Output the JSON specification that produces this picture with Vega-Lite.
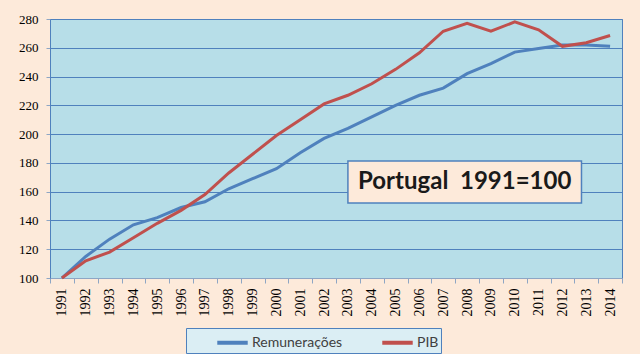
{
  "$schema": "https://vega.github.io/schema/vega-lite/v6.json",
  "width": 572,
  "height": 259,
  "padding": {"left": 5, "top": 13, "right": 18, "bottom": 0},
  "background": "#FDEADA",
  "config": {"view": {"fill": "#B7DEE8", "stroke": "#4F81BD", "strokeWidth": 1}},
  "datasets": {
    "series": [
      {"year": 1991, "serie": "Remunerações", "value": 100},
      {"year": 1992, "serie": "Remunerações", "value": 115},
      {"year": 1993, "serie": "Remunerações", "value": 127},
      {"year": 1994, "serie": "Remunerações", "value": 137},
      {"year": 1995, "serie": "Remunerações", "value": 142},
      {"year": 1996, "serie": "Remunerações", "value": 149},
      {"year": 1997, "serie": "Remunerações", "value": 153},
      {"year": 1998, "serie": "Remunerações", "value": 162},
      {"year": 1999, "serie": "Remunerações", "value": 169},
      {"year": 2000, "serie": "Remunerações", "value": 176},
      {"year": 2001, "serie": "Remunerações", "value": 187},
      {"year": 2002, "serie": "Remunerações", "value": 197},
      {"year": 2003, "serie": "Remunerações", "value": 204},
      {"year": 2004, "serie": "Remunerações", "value": 212},
      {"year": 2005, "serie": "Remunerações", "value": 220},
      {"year": 2006, "serie": "Remunerações", "value": 227},
      {"year": 2007, "serie": "Remunerações", "value": 232},
      {"year": 2008, "serie": "Remunerações", "value": 242},
      {"year": 2009, "serie": "Remunerações", "value": 249},
      {"year": 2010, "serie": "Remunerações", "value": 257},
      {"year": 2011, "serie": "Remunerações", "value": 259.5},
      {"year": 2012, "serie": "Remunerações", "value": 262},
      {"year": 2013, "serie": "Remunerações", "value": 262},
      {"year": 2014, "serie": "Remunerações", "value": 261},
      {"year": 1991, "serie": "PIB", "value": 100},
      {"year": 1992, "serie": "PIB", "value": 112},
      {"year": 1993, "serie": "PIB", "value": 118},
      {"year": 1994, "serie": "PIB", "value": 128},
      {"year": 1995, "serie": "PIB", "value": 138},
      {"year": 1996, "serie": "PIB", "value": 147},
      {"year": 1997, "serie": "PIB", "value": 158},
      {"year": 1998, "serie": "PIB", "value": 173},
      {"year": 1999, "serie": "PIB", "value": 186},
      {"year": 2000, "serie": "PIB", "value": 199},
      {"year": 2001, "serie": "PIB", "value": 210},
      {"year": 2002, "serie": "PIB", "value": 221},
      {"year": 2003, "serie": "PIB", "value": 227},
      {"year": 2004, "serie": "PIB", "value": 235},
      {"year": 2005, "serie": "PIB", "value": 245},
      {"year": 2006, "serie": "PIB", "value": 256.5},
      {"year": 2007, "serie": "PIB", "value": 271.5},
      {"year": 2008, "serie": "PIB", "value": 277},
      {"year": 2009, "serie": "PIB", "value": 271.5},
      {"year": 2010, "serie": "PIB", "value": 278},
      {"year": 2011, "serie": "PIB", "value": 272.5},
      {"year": 2012, "serie": "PIB", "value": 261},
      {"year": 2013, "serie": "PIB", "value": 263.5},
      {"year": 2014, "serie": "PIB", "value": 268.5}
    ],
    "note": [
      {"x1": 2003.0, "x2": 2012.8, "y1": 181.3, "y2": 152.1, "xc": 2007.9, "yc": 166.7, "label": "Portugal\u00a0 1991=100"}
    ]
  },
  "layer": [
    {
      "data": {"name": "series"},
      "mark": {"type": "line", "strokeWidth": 3},
      "encoding": {
        "x": {
          "field": "year", "type": "quantitative",
          "scale": {"domain": [1990.5, 2014.5], "nice": false, "zero": false},
          "axis": {
            "title": null,
            "values": [1990.5, 1991.5, 1992.5, 1993.5, 1994.5, 1995.5, 1996.5, 1997.5, 1998.5, 1999.5, 2000.5, 2001.5, 2002.5, 2003.5, 2004.5, 2005.5, 2006.5, 2007.5, 2008.5, 2009.5, 2010.5, 2011.5, 2012.5, 2013.5, 2014.5],
            "labelExpr": "datum.value < 2014 ? format(datum.value + 0.5, 'd') : ''",
            "labelOffset": 11.9,
            "labelAngle": 270,
            "labelAlign": "right",
            "labelBaseline": "middle",
            "labelPadding": 5,
            "labelFlush": false,
            "labelOverlap": false,
            "labelBound": false,
            "labelFont": "Liberation Serif",
            "labelFontSize": 14,
            "labelColor": "#000000",
            "tickSize": 5,
            "tickColor": "#8EA6C4",
            "domainColor": "#8EA6C4",
            "grid": false
          }
        },
        "y": {
          "field": "value", "type": "quantitative",
          "scale": {"domain": [100, 280], "nice": false, "zero": false},
          "axis": {
            "title": null,
            "values": [100, 120, 140, 160, 180, 200, 220, 240, 260, 280],
            "grid": true,
            "gridColor": "#4F81BD",
            "gridWidth": 1,
            "domainColor": "#4F81BD",
            "tickColor": "#8EA6C4",
            "tickSize": 4,
            "labelPadding": 8,
            "labelFont": "Liberation Serif",
            "labelFontSize": 13,
            "labelColor": "#000000",
            "minExtent": 45,
            "maxExtent": 45
          }
        },
        "color": {
          "field": "serie", "type": "nominal",
          "scale": {"domain": ["Remunerações", "PIB"], "range": ["#4F81BD", "#C0504D"]},
          "legend": {
            "orient": "none",
            "legendX": 136,
            "legendY": 309,
            "direction": "horizontal",
            "title": "\u00a0",
            "titleOrient": "left",
            "titleFontSize": 4,
            "titlePadding": 32,
            "fillColor": "#DBEEF4",
            "strokeColor": "#4F81BD",
            "padding": 2,
            "symbolType": "M-1.45,0H1.45",
            "symbolSize": 441,
            "symbolStrokeWidth": 4,
            "symbolFillColor": "transparent",
            "labelFont": "Lato",
            "labelFontSize": 14,
            "labelColor": "#404040",
            "labelOffset": 7,
            "columnPadding": 31,
            "labelExpr": "datum.label == 'PIB' ? 'PIB\u00a0\u00a0\u00a0\u00a0\u00a0\u00a0\u00a0\u00a0\u00a0\u00a0' : datum.label"
          }
        },
        "order": {"field": "year", "type": "quantitative"}
      }
    },
    {
      "data": {"name": "note"},
      "mark": {"type": "rect", "fill": "#FDEADA", "stroke": "#4F81BD", "strokeWidth": 1.5},
      "encoding": {
        "x": {
          "field": "x1", "type": "quantitative",
          "axis": {
            "title": null,
            "values": [1990.5, 1991.5, 1992.5, 1993.5, 1994.5, 1995.5, 1996.5, 1997.5, 1998.5, 1999.5, 2000.5, 2001.5, 2002.5, 2003.5, 2004.5, 2005.5, 2006.5, 2007.5, 2008.5, 2009.5, 2010.5, 2011.5, 2012.5, 2013.5, 2014.5],
            "labelExpr": "datum.value < 2014 ? format(datum.value + 0.5, 'd') : ''",
            "labelOffset": 11.9,
            "labelAngle": 270,
            "labelAlign": "right",
            "labelBaseline": "middle",
            "labelPadding": 5,
            "labelFlush": false,
            "labelOverlap": false,
            "labelBound": false,
            "labelFont": "Liberation Serif",
            "labelFontSize": 14,
            "labelColor": "#000000",
            "tickSize": 5,
            "tickColor": "#8EA6C4",
            "domainColor": "#8EA6C4",
            "grid": false
          }
        },
        "x2": {"field": "x2"},
        "y": {
          "field": "y1", "type": "quantitative",
          "axis": {
            "title": null,
            "values": [100, 120, 140, 160, 180, 200, 220, 240, 260, 280],
            "grid": true,
            "gridColor": "#4F81BD",
            "gridWidth": 1,
            "domainColor": "#4F81BD",
            "tickColor": "#8EA6C4",
            "tickSize": 4,
            "labelPadding": 8,
            "labelFont": "Liberation Serif",
            "labelFontSize": 13,
            "labelColor": "#000000",
            "minExtent": 45,
            "maxExtent": 45
          }
        },
        "y2": {"field": "y2"}
      }
    },
    {
      "data": {"name": "note"},
      "mark": {"type": "text", "font": "Lato", "fontSize": 24, "fontWeight": "bold", "color": "#1A1A1A", "align": "center", "baseline": "middle"},
      "encoding": {
        "x": {
          "field": "xc", "type": "quantitative",
          "axis": {
            "title": null,
            "values": [1990.5, 1991.5, 1992.5, 1993.5, 1994.5, 1995.5, 1996.5, 1997.5, 1998.5, 1999.5, 2000.5, 2001.5, 2002.5, 2003.5, 2004.5, 2005.5, 2006.5, 2007.5, 2008.5, 2009.5, 2010.5, 2011.5, 2012.5, 2013.5, 2014.5],
            "labelExpr": "datum.value < 2014 ? format(datum.value + 0.5, 'd') : ''",
            "labelOffset": 11.9,
            "labelAngle": 270,
            "labelAlign": "right",
            "labelBaseline": "middle",
            "labelPadding": 5,
            "labelFlush": false,
            "labelOverlap": false,
            "labelBound": false,
            "labelFont": "Liberation Serif",
            "labelFontSize": 14,
            "labelColor": "#000000",
            "tickSize": 5,
            "tickColor": "#8EA6C4",
            "domainColor": "#8EA6C4",
            "grid": false
          }
        },
        "y": {
          "field": "yc", "type": "quantitative",
          "axis": {
            "title": null,
            "values": [100, 120, 140, 160, 180, 200, 220, 240, 260, 280],
            "grid": true,
            "gridColor": "#4F81BD",
            "gridWidth": 1,
            "domainColor": "#4F81BD",
            "tickColor": "#8EA6C4",
            "tickSize": 4,
            "labelPadding": 8,
            "labelFont": "Liberation Serif",
            "labelFontSize": 13,
            "labelColor": "#000000",
            "minExtent": 45,
            "maxExtent": 45
          }
        },
        "text": {"field": "label"}
      }
    }
  ]
}
